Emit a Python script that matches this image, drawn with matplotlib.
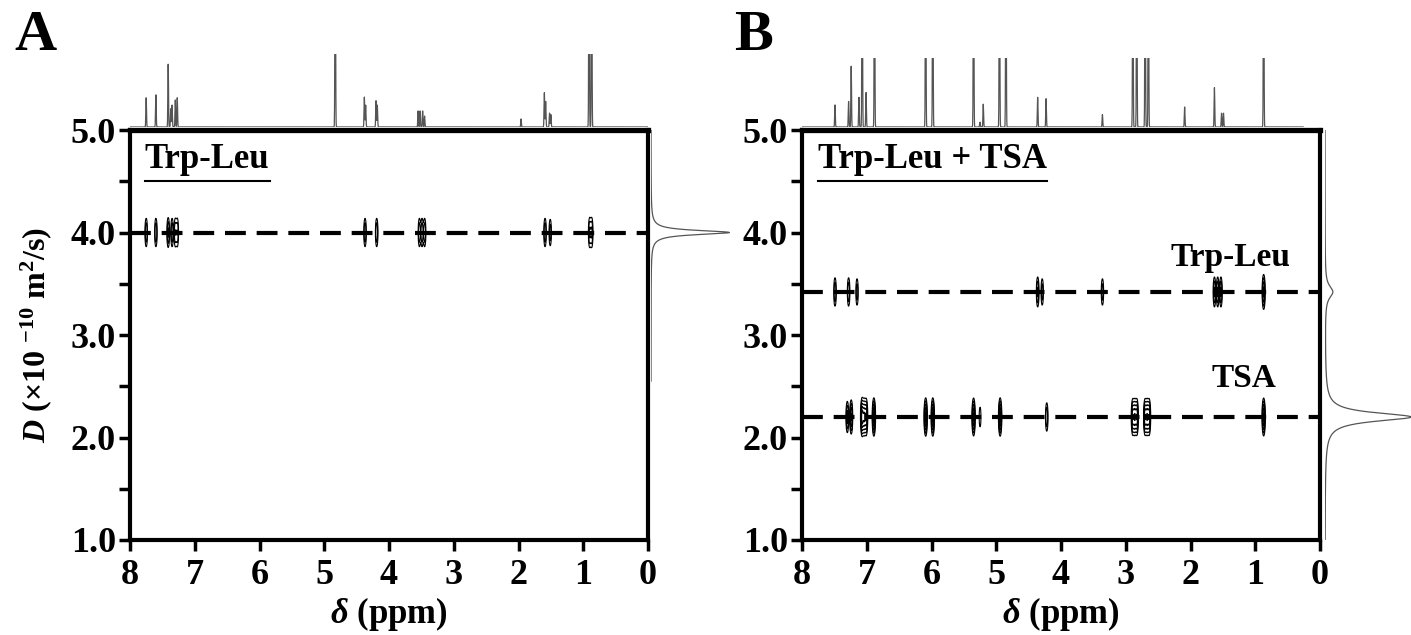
import numpy as np
import matplotlib.pyplot as plt
from matplotlib.lines import Line2D
from matplotlib.ticker import MultipleLocator, FormatStrFormatter

plt.rcParams['font.family'] = 'Liberation Serif'
plt.rcParams['font.weight'] = 'bold'
plt.rcParams['axes.labelweight'] = 'bold'
plt.rcParams['mathtext.fontset'] = 'custom'
plt.rcParams['mathtext.rm'] = 'Liberation Serif:bold'
plt.rcParams['mathtext.it'] = 'Liberation Serif:bold:italic'
plt.rcParams['mathtext.bf'] = 'Liberation Serif:bold'

# ---- panel A: Trp-Leu alone ----
a_top_ppm = [7.75, 7.60, 7.41, 7.37, 7.35, 7.30, 7.27, 4.83, 4.38, 4.36, 4.20, 4.18,
             3.55, 3.52, 3.48, 3.45, 1.96, 1.60, 1.58, 1.52, 1.50, 0.91, 0.87]
a_top_int = [0.40, 0.44, 0.86, 0.25, 0.30, 0.37, 0.40, 3.0, 0.41, 0.30, 0.36, 0.30,
             0.22, 0.22, 0.22, 0.15, 0.11, 0.47, 0.35, 0.19, 0.17, 3.0, 3.0]
a_peak_ppm = [7.75, 7.60, 7.41, 7.35, 7.30, 7.27, 4.37, 4.19, 3.53, 3.49, 3.45,
              1.59, 1.51, 0.90, 0.87]
a_peak_amp = [0.30, 0.30, 0.35, 0.30, 0.30, 0.30, 0.30, 0.30, 0.30, 0.30, 0.30,
              0.30, 0.25, 0.35, 0.35]
a_D = 4.0
a_proj_D = [4.0]
a_proj_int = [0.98]

# ---- panel B: Trp-Leu + TSA ----
b_top_ppm = [7.49, 7.28, 7.24, 7.12, 7.07, 7.01, 6.88, 6.09, 5.98, 5.35, 5.25, 5.20,
             4.95, 4.85, 4.36, 4.23, 3.36, 2.89, 2.83, 2.70, 2.65, 2.09, 1.63, 1.52,
             1.49, 0.87]
b_top_int = [0.32, 0.37, 0.88, 0.43, 3.0, 0.50, 3.0, 3.0, 3.0, 3.0, 0.07, 0.33,
             3.0, 3.0, 0.43, 0.41, 0.18, 3.0, 3.0, 3.0, 3.0, 0.29, 0.57, 0.20,
             0.20, 3.0]
b_trp_ppm = [7.49, 7.28, 7.15, 4.36, 4.29, 3.36, 1.63, 1.58, 1.53, 0.87]
b_trp_amp = [0.30, 0.30, 0.25, 0.35, 0.25, 0.25, 0.35, 0.35, 0.35, 0.60]
b_tsa_ppm = [7.30, 7.24, 7.07, 7.04, 7.01, 6.89, 6.09, 5.98, 5.35, 5.25, 4.94, 4.22,
             2.89, 2.86, 2.83, 2.70, 2.67, 2.64, 0.87]
b_tsa_amp = [0.40, 0.55, 1.00, 0.80, 0.80, 0.90, 0.90, 0.90, 0.85, 0.15, 0.90, 0.30,
             0.75, 0.75, 0.75, 0.75, 0.75, 0.75, 0.85]
b_D = [3.42, 2.20]
b_proj_D = [3.42, 2.20]
b_proj_int = [0.09, 1.0]

W, H = 1411, 635
fig = plt.figure(figsize=(W / 100, H / 100), dpi=100)


def px_axes(x0, y_top, w, h):
    return fig.add_axes([x0 / W, (H - y_top - h) / H, w / W, h / H])


def gauss_sum(x, centres, heights, sigma):
    y = np.zeros_like(x)
    for c, hgt in zip(centres, heights):
        y += hgt * np.exp(-0.5 * ((x - c) / sigma) ** 2)
    return y


def lorentz_sum(x, centres, heights, hw):
    y = np.zeros_like(x)
    for c, hgt, w in zip(centres, heights, hw):
        y += hgt / (1 + ((x - c) / w) ** 2)
    return y


ppm_grid = np.arange(0, 8.0005, 0.002)
d_grid = np.arange(1.0, 5.0001, 0.01)


def cross_peaks(ax, ppms, amps, D0):
    gy = np.exp(-0.5 * ((d_grid - D0) / 0.085) ** 2)
    z = np.zeros((len(d_grid), len(ppm_grid)))
    for p, a in zip(ppms, amps):
        gx = np.exp(-0.5 * ((ppm_grid - p) / 0.012) ** 2)
        z += a * np.outer(gy, gx)
    ax.contour(ppm_grid, d_grid, z, levels=[0.08, 0.16, 0.3, 0.5, 0.75],
               colors='black', linewidths=0.8)


def style_main(ax):
    ax.set_xlim(8, 0)
    ax.set_ylim(1, 5)
    ax.xaxis.set_major_locator(MultipleLocator(1))
    ax.yaxis.set_major_locator(MultipleLocator(1))
    ax.yaxis.set_minor_locator(MultipleLocator(0.5))
    ax.yaxis.set_major_formatter(FormatStrFormatter('%.1f'))
    ax.tick_params(axis='both', which='both', direction='out', length=8, width=2.5,
                   labelsize=26, top=False, right=False)
    ax.tick_params(axis='x', pad=6)
    ax.tick_params(axis='y', pad=2)
    for s in ax.spines.values():
        s.set_linewidth(3)
    ax.spines['top'].set_linewidth(3.8)
    ax.set_xlabel(r'$\delta$ (ppm)', fontsize=25, labelpad=2)


def style_side(ax):
    ax.set_axis_off()


def underline(txt, gap=5):
    fig.canvas.draw()
    bb = txt.get_window_extent()
    inv = fig.transFigure.inverted()
    (x0, y0), (x1, _) = inv.transform([(bb.x0, bb.y0 - gap), (bb.x1, bb.y0 - gap)])
    fig.add_artist(Line2D([x0, x1], [y0, y0], transform=fig.transFigure,
                          color='black', lw=1.5))


# ---------------- panel A ----------------
axA = px_axes(130, 130, 518, 410)
cross_peaks(axA, a_peak_ppm, a_peak_amp, a_D)
axA.axhline(a_D, color='black', lw=3, ls=(0, (5, 2.6)))
style_main(axA)
axA.set_ylabel(r'$D$ (×10 $^{-10}$ m$^{2}$/s)', fontsize=23, labelpad=12)
tA = axA.text(7.77, 4.63, 'Trp-Leu', fontsize=25, ha='left', va='baseline')

topA = px_axes(130, 54, 518, 73)
xs = np.arange(0, 8.0005, 0.001)
topA.plot(xs, gauss_sum(xs, a_top_ppm, a_top_int, 0.005), color='#555555', lw=0.9)
topA.set_xlim(8, 0)
topA.set_ylim(0, 1)
style_side(topA)

sideA = px_axes(651, 130, 80, 410)
ds = np.arange(2.55, 5.0001, 0.002)
sideA.plot(lorentz_sum(ds, a_proj_D, a_proj_int, [0.025]), ds, color='#555555', lw=0.9)
sideA.set_xlim(0, 1)
sideA.set_ylim(1, 5)
style_side(sideA)

# ---------------- panel B ----------------
axB = px_axes(802, 130, 518, 410)
cross_peaks(axB, b_trp_ppm, b_trp_amp, b_D[0])
cross_peaks(axB, b_tsa_ppm, b_tsa_amp, b_D[1])
for d in b_D:
    axB.axhline(d, color='black', lw=3, ls=(0, (5, 2.6)))
style_main(axB)
tB = axB.text(7.75, 4.63, 'Trp-Leu + TSA', fontsize=25, ha='left', va='baseline')
axB.text(1.39, 3.76, 'Trp-Leu', fontsize=24, ha='center', va='center')
axB.text(1.17, 2.58, 'TSA', fontsize=24, ha='center', va='center')

topB = px_axes(802, 58, 518, 69)
xs = np.arange(0.26, 8.0005, 0.001)
topB.plot(xs, gauss_sum(xs, b_top_ppm, b_top_int, 0.005), color='#555555', lw=0.9)
topB.set_xlim(8, 0)
topB.set_ylim(0, 1)
style_side(topB)

sideB = px_axes(1325, 130, 86, 410)
ds = np.arange(1.0, 5.0001, 0.002)
sideB.plot(lorentz_sum(ds, b_proj_D, b_proj_int, [0.07, 0.05]), ds,
           color='#555555', lw=0.9)
sideB.set_xlim(0, 1.0)
sideB.set_ylim(1, 5)
style_side(sideB)

fig.text(14 / W, 1 - 10 / H, 'A', fontsize=42, ha='left', va='top')
fig.text(734 / W, 1 - 10 / H, 'B', fontsize=42, ha='left', va='top')

underline(tA)
underline(tB)

fig.savefig('out.png', dpi=100)
